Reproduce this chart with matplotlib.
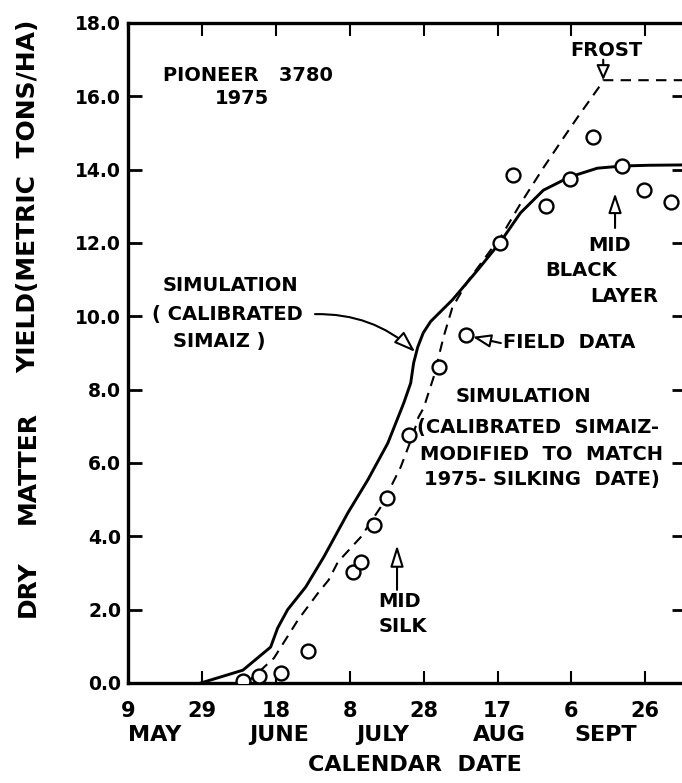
import matplotlib
matplotlib.use("Agg")
import matplotlib.pyplot as plt

plt.rcParams["font.family"] = ["DejaVu Sans"]
plt.rcParams["font.weight"] = "bold"

# Calendar axis (day of year, 1975)
tick_days = [129, 149, 169, 189, 209, 229, 249, 269]
tick_labels = ["9", "29", "18", "8", "28", "17", "6", "26"]
month_names = ["MAY", "JUNE", "JULY", "AUG", "SEPT"]
month_days = [136.3, 169.8, 197.9, 229.5, 258.2]

y_ticks = [0, 2, 4, 6, 8, 10, 12, 14, 16, 18]
y_tick_labels = ["0.0", "2.0", "4.0", "6.0", "8.0", "10.0", "12.0", "14.0", "16.0", "18.0"]

# Field measurements of dry matter (t/ha)
field_day = [160.1, 164.4, 170.4, 177.6, 189.8, 192.0, 195.5, 199.0, 205.0, 213.1,
             220.4, 229.8, 233.3, 242.0, 248.5, 254.7, 262.8, 268.5, 276.0]
field_yield = [0.05, 0.2, 0.27, 0.87, 3.03, 3.3, 4.31, 5.04, 6.76, 8.62,
               9.49, 12.0, 13.85, 13.0, 13.74, 14.89, 14.1, 13.44, 13.12]

# Simulation, calibrated SIMAIZ
sim_day = [148.7, 160.1, 167.6, 169.5, 172.2, 177.1, 182.0, 188.5, 193.9, 199.3,
           203.6, 205.5, 206.3, 207.4, 208.9, 210.9, 213.5, 216.8, 223.6, 229.8,
           235.2, 241.4, 248.5, 256.0, 262.8, 270.0, 280.0]
sim_yield = [0.0, 0.35, 0.98, 1.5, 2.0, 2.62, 3.44, 4.64, 5.54, 6.54,
             7.63, 8.18, 8.73, 9.16, 9.55, 9.86, 10.12, 10.45, 11.26, 12.03,
             12.82, 13.44, 13.8, 14.04, 14.1, 14.12, 14.13]

# Simulation modified to match the 1975 silking date (frost stops growth)
mod_day = [161.0, 164.4, 168.5, 175.0, 180.4, 183.3, 185.8, 192.0, 197.4, 202.8,
           206.3, 207.6, 209.0, 211.7, 214.4, 216.8, 220.9, 227.1, 229.8, 235.2,
           241.4, 247.4, 250.6, 256.8, 257.6, 280.0]
mod_yield = [0.0, 0.3, 0.68, 1.72, 2.45, 2.81, 3.3, 3.98, 4.8, 5.89,
             6.82, 7.25, 7.5, 8.34, 9.44, 10.25, 10.95, 11.8, 12.15, 13.07,
             14.05, 14.95, 15.42, 16.3, 16.44, 16.44]

W, H = 682, 783
fig = plt.figure(figsize=(W / 100, H / 100), dpi=100)
ax = fig.add_axes([128 / W, 100 / H, 558 / W, 660 / H])

ax.plot(sim_day, sim_yield, color="black", lw=2.1, solid_joinstyle="round")
ax.plot(mod_day, mod_yield, color="black", lw=1.5, dashes=(5, 3.5))
ax.plot(field_day, field_yield, linestyle="none", marker="o", ms=10,
        mfc="white", mec="black", mew=1.7, zorder=5)

ax.set_xlim(129, 280)
ax.set_ylim(0, 18)

ax.set_xticks(tick_days)
ax.set_xticklabels(tick_labels, fontsize=15, fontweight="bold")
ax.set_yticks(y_ticks)
ax.set_yticklabels(y_tick_labels, fontsize=13.5, fontweight="bold")

ax.tick_params(axis="x", direction="in", top=True, bottom=True, length=9, width=1.5, pad=13)
ax.tick_params(axis="y", direction="in", left=True, right=True, length=10, width=2, pad=5)

for side in ("left", "bottom", "top"):
    ax.spines[side].set_linewidth(2.4)
ax.spines["right"].set_visible(False)

for name, d in zip(month_names, month_days):
    ax.text(d, -0.079, name, transform=ax.get_xaxis_transform(), ha="center", va="center",
            fontsize=16, fontweight="bold")
ax.text(0.515, -0.124, "CALENDAR  DATE", transform=ax.transAxes, ha="center", va="center",
        fontsize=16, fontweight="bold")

# Rotated y-axis title, set in three spaced groups
ylab = dict(rotation=90, ha="center", va="center", fontsize=18, fontweight="bold")
fig.text(28 / W, 1 - 589 / H, "DRY", **ylab)
fig.text(28 / W, 1 - 467 / H, "MATTER", **ylab)
fig.text(28 / W, 1 - 196 / H, "YIELD(METRIC  TONS/HA)", **ylab)

tfs = 14
ax.text(138.5, 16.58, "PIONEER   3780", fontsize=tfs, va="center")
ax.text(152.5, 15.95, "1975", fontsize=tfs, va="center")

ax.text(258.4, 17.26, "FROST", fontsize=tfs, ha="center", va="center")
head = dict(fc="white", ec="black", lw=1.5, shrinkA=0, shrinkB=0, mutation_scale=10)
ax.annotate("", xy=(257.6, 16.44), xytext=(257.6, 17.0),
            arrowprops=dict(arrowstyle="-|>,head_length=0.9,head_width=0.4", **head))

ax.annotate("", xy=(260.8, 13.36), xytext=(260.8, 12.41),
            arrowprops=dict(arrowstyle="-|>,head_length=1.2,head_width=0.4", **head))
ax.text(259.2, 11.94, "MID", fontsize=tfs, ha="center", va="center")
ax.text(251.6, 11.26, "BLACK", fontsize=tfs, ha="center", va="center")
ax.text(263.2, 10.55, "LAYER", fontsize=tfs, ha="center", va="center")

ax.annotate("", xy=(222.3, 9.44), xytext=(229.9, 9.27),
            arrowprops=dict(arrowstyle="-|>,head_length=1.1,head_width=0.4", **head))
ax.text(230.5, 9.3, "FIELD  DATA", fontsize=tfs, va="center")

ax.text(235.9, 7.8, "SIMULATION", fontsize=tfs, ha="center", va="center")
ax.text(207.2, 6.98, "(CALIBRATED  SIMAIZ-", fontsize=tfs, va="center")
ax.text(208.0, 6.22, "MODIFIED  TO  MATCH", fontsize=tfs, va="center")
ax.text(209.1, 5.54, "1975- SILKING  DATE)", fontsize=tfs, va="center")

ax.annotate("", xy=(201.8, 3.76), xytext=(201.8, 2.54),
            arrowprops=dict(arrowstyle="-|>,head_length=1.3,head_width=0.4", **head))
ax.text(196.7, 2.21, "MID", fontsize=tfs, va="center")
ax.text(196.7, 1.53, "SILK", fontsize=tfs, va="center")

ax.text(138.5, 10.85, "SIMULATION", fontsize=tfs, va="center")
ax.text(135.5, 10.04, "( CALIBRATED", fontsize=tfs, va="center")
ax.text(141.2, 9.3, "SIMAIZ )", fontsize=tfs, va="center")
ax.annotate("", xy=(206.7, 9.03), xytext=(179.6, 10.06),
            arrowprops=dict(arrowstyle="-|>,head_length=1.3,head_width=0.45",
                            connectionstyle="arc3,rad=-0.2", **head))

fig.savefig("out.png", dpi=100)
